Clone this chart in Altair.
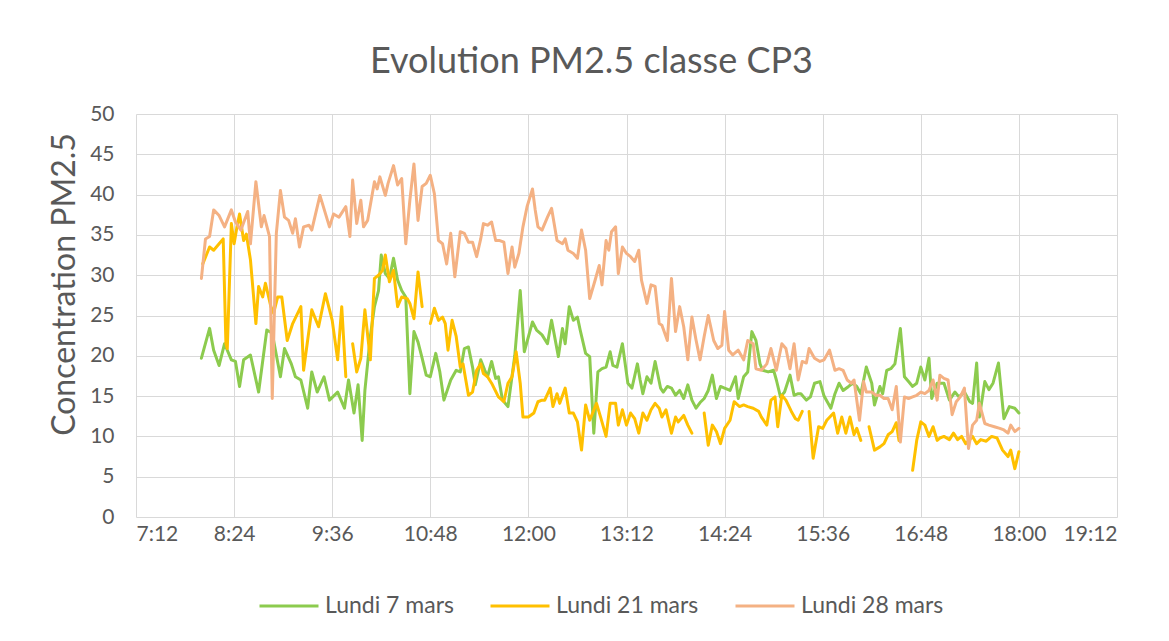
import altair as alt
import pandas as pd

SERIES = ["Lundi 7 mars", "Lundi 21 mars", "Lundi 28 mars"]
COLORS = ["#8CCB4E", "#FFC000", "#F4B183"]

# time in minutes since midnight
TIME_7 = [480, 486, 489, 493, 497, 502, 505, 508, 511, 516,
          522, 528, 532, 538, 541, 546, 549, 553, 558, 561,
          565, 570, 574, 580, 585, 588,
          592, 595, 598, 600, 604, 607, 610, 612, 615, 618,
          621, 624, 627, 630, 633, 636, 639, 642, 645, 648,
          652, 655, 658, 663, 667, 670, 673, 676, 679, 681,
          685, 688, 690, 693, 696, 698,
          701, 705, 710, 714, 717, 723, 726, 730, 734, 737,
          742, 745, 747, 750, 753, 756, 758, 762, 765, 768,
          771, 774, 777, 780, 782, 785, 789, 793, 796, 800,
          802, 804, 807, 810, 813,
          817, 819, 822, 825, 828, 831, 834, 837, 840, 843,
          846, 849, 852, 855, 858, 861, 864, 868, 872, 874,
          878, 881, 884, 887, 890, 892, 896, 900, 902, 905,
          908, 912, 915, 918, 920, 924,
          927, 930, 934, 937, 942, 945, 948, 951, 955, 958,
          961, 964, 968, 972, 974, 978, 980, 983, 986, 989,
          993, 996, 999, 1002, 1005, 1008, 1011, 1014, 1016, 1020,
          1025, 1029, 1033, 1036, 1040, 1044, 1046, 1049, 1051, 1055,
          1058, 1061, 1065, 1069, 1073, 1077, 1080]
PM_7 = [19.7, 23.4, 20.7, 18.8, 21.5, 19.5, 19.3, 16.2, 19.5, 20.1,
        15.5, 23.2, 22.8, 17.4, 20.9, 19.0, 17.4, 17.0, 13.5, 18.0,
        15.5, 17.4, 14.5, 15.5, 13.5, 17.0,
        12.9, 16.4, 9.5, 15.7, 22.4, 26.1, 28.1, 32.5, 30.2, 29.6,
        32.1, 29.4, 28.1, 27.3, 15.3, 23.0, 21.7, 19.7, 17.6, 17.4,
        20.3, 18.0, 14.5, 17.0, 18.2, 18.0, 20.9, 21.1, 18.6, 16.4,
        19.5, 18.2, 17.4, 19.3, 17.2, 17.4,
        14.5, 13.7, 20.0, 28.1, 20.5, 24.2, 23.2, 22.6, 21.5, 24.4,
        19.9, 23.4, 21.5, 26.1, 24.4, 24.8, 23.2, 20.3, 19.9, 10.4,
        18.0, 18.4, 18.6, 20.5, 18.8, 18.6, 21.5, 16.6, 16.0, 19.0,
        17.0, 15.3, 17.4, 16.6, 19.3,
        16.0, 15.5, 16.2, 16.0, 15.1, 15.7, 14.7, 16.4, 14.5, 13.5,
        14.2, 14.7, 15.7, 17.6, 14.7, 16.2, 16.0, 15.7, 17.4, 14.7,
        17.4, 18.0, 23.0, 21.9, 19.0, 18.2, 18.0, 18.2, 17.0, 14.9,
        15.5, 17.6, 15.1, 15.3, 15.3, 14.5,
        14.9, 16.6, 16.8, 15.0, 13.5, 15.3, 16.6, 15.7, 16.2, 16.6,
        16.2, 15.3, 18.6, 16.6, 13.9, 16.2, 15.3, 18.2, 18.4, 19.0,
        23.4, 17.4, 16.8, 16.2, 16.6, 18.6, 17.0, 19.7, 14.7, 16.6,
        16.6, 14.5, 15.5, 14.9, 15.5, 14.3, 14.1, 19.1, 12.4, 16.8,
        15.8, 16.6, 19.1, 12.2, 13.7, 13.5, 12.9]

# None marks a gap in the measurements
TIME_21 = [481, 486, 489, 493, 496, 498, 499, 502, 504, 506,
           508, 511, 513, 516, 520, 522, 525, 527, 531, 533,
           536, 539, 543, 547, 553, 555, 561, 566, 571, 576,
           580, 583, 586, 588,
           591, 594, 597, 600, 604, 607, 610, 613, 615, 618,
           621, 624, 627, 631, 633, 636, 639, 642, 645,
           648, 651, 654, 657, 659, 661, 664, 667, 670, 672,
           676, 679, 682, 685, 687, 690, 693, 698,
           702, 705, 708, 711, 714, 716, 720, 724, 727, 730,
           732, 736, 738, 741, 743, 747, 750, 753, 756, 759,
           762, 765, 770, 773, 777, 780, 784, 786, 789, 792,
           795, 798, 801, 804, 807, 810, 813,
           816, 818, 821, 825, 828, 830, 834, 837, 840, 845,
           849, 852, 855, 858, 861, 864, 868, 871, 875, 878,
           881, 885, 889, 891, 895, 898, 901, 903, 906, 909,
           913, 916, 918, 921, 923,
           926, 929, 933, 936, 939, 944, 947, 950, 953, 956,
           959, 961, 964, 967,
           970, 974, 978, 981, 984, 987, 990, 992, 997,
           1002, 1005, 1008, 1011, 1014, 1017, 1020,
           1022, 1025, 1029, 1032, 1035, 1038, 1041, 1044, 1046, 1049,
           1052, 1056, 1060, 1064, 1068, 1072, 1074, 1077, 1080]
PM_21 = [31.4, 33.5, 33.1, 33.9, 34.5, 21.5, 20.9, 36.4, 33.9, 35.9,
         37.6, 34.3, 35.1, 31.9, 24.0, 28.6, 27.3, 29.0, 26.1, 25.3,
         27.3, 27.3, 21.9, 24.0, 26.1, 18.2, 25.7, 23.6, 27.7, 24.4,
         19.5, 26.1, 17.4, None,
         21.5, 18.0, 19.7, 25.7, 19.5, 29.6, 30.0, 30.6, 32.5, 29.2,
         30.6, 26.1, 27.3, 27.1, 26.5, 24.6, 30.4, 26.1, None,
         24.0, 25.9, 24.4, 24.8, 24.0, 20.7, 24.4, 22.4, 18.6, 19.0,
         15.1, 15.5, 18.2, 19.0, 17.8, 17.4, 16.6, 14.9,
         14.3, 16.6, 17.4, 20.5, 16.6, 12.4, 12.4, 12.9, 14.3, 14.5,
         14.5, 16.0, 13.7, 15.3, 14.1, 16.0, 12.9, 12.9, 11.8, 8.3,
         13.9, 12.0, 14.1, 12.4, 10.0, 14.1, 14.1, 11.4, 13.3, 11.4,
         12.9, 12.2, 10.4, 12.9, 12.0, 13.3, 14.1,
         13.5, 12.4, 13.3, 10.4, 12.4, 11.8, 12.6, 11.4, 10.4, None,
         12.9, 8.9, 11.4, 10.6, 9.1, 11.0, 12.0, 14.3, 13.7, 13.9,
         13.7, 13.5, 13.1, 12.4, 11.4, 14.5, 14.9, 11.2, 15.1, 14.5,
         13.1, 12.2, 12.0, 13.1, None,
         13.1, 7.3, 11.2, 11.0, 12.0, 12.9, 10.4, 12.4, 10.4, 12.4,
         10.2, 11.0, 9.5, None,
         11.2, 8.3, 8.7, 9.1, 10.2, 10.6, 11.7, 9.5, None,
         5.8, 9.5, 11.8, 11.4, 10.0, 11.2, 9.5,
         9.8, 10.0, 9.6, 10.4, 9.6, 10.0, 9.1, 9.6, 10.0, 9.1,
         9.6, 9.4, 10.0, 9.8, 8.3, 7.5, 8.3, 6.0, 8.1]

TIME_28 = [480, 483, 486, 489, 493, 497, 502, 505, 509, 514,
           516, 520, 524, 526, 530, 532, 535, 538, 541, 544,
           547, 549, 552, 555, 559, 561, 567, 574, 577, 581,
           586, 589,
           591, 594, 597, 599, 602, 607, 609, 611, 615, 617,
           621, 624, 627, 630, 633, 636, 639, 642, 645, 648,
           651, 654, 657, 660, 663, 666, 670, 673, 676, 679,
           682, 685, 687, 690, 693, 696, 699,
           702, 705, 708, 710, 713, 716, 719, 723, 725, 727,
           730, 734, 737, 741, 745, 747, 749, 753, 756, 759,
           762, 765, 769, 772, 774, 777, 779, 781, 784, 786,
           789, 792, 795, 798, 801, 803, 807, 810, 813, 816,
           818, 822, 825, 828, 831, 834, 837, 840, 843, 846,
           849, 852, 856, 859, 862, 864, 867, 870, 874, 878,
           881, 885, 887, 891, 895, 898, 902, 906, 909, 912,
           915, 918, 921, 924, 926,
           930, 934, 937, 941, 945, 948, 951, 954, 957, 959,
           963, 966, 968, 972, 975, 978, 981, 984, 987, 990,
           993, 996, 999, 1002, 1005, 1008, 1011, 1014, 1017, 1020,
           1022, 1025, 1028, 1031, 1034, 1037, 1040, 1043, 1046, 1049,
           1051, 1055, 1058, 1062, 1066, 1069, 1072, 1074, 1077, 1080]
PM_28 = [29.6, 34.5, 34.8, 38.1, 37.4, 36.0, 38.1, 36.6, 35.6, 37.9,
         33.9, 41.6, 36.0, 37.4, 34.8, 14.7, 35.2, 40.5, 37.2, 36.8,
         35.2, 37.0, 33.5, 36.0, 36.2, 35.6, 39.9, 36.0, 37.6, 37.2,
         38.5, 34.8,
         41.8, 36.4, 39.3, 36.0, 36.8, 41.6, 40.7, 42.2, 39.9, 41.4,
         43.6, 41.2, 42.0, 33.9, 39.3, 43.8, 36.8, 41.0, 41.4, 42.4,
         40.1, 34.3, 33.9, 31.4, 35.2, 29.8, 35.4, 35.2, 34.1, 34.1,
         32.3, 34.5, 36.4, 36.2, 36.6, 34.3, 34.3,
         34.1, 30.2, 33.5, 31.0, 32.7, 36.0, 38.5, 40.7, 38.1, 36.0,
         35.6, 37.2, 38.3, 34.3, 33.9, 34.5, 33.1, 32.7, 32.1, 35.6,
         33.1, 27.1, 29.4, 31.2, 28.8, 34.3, 33.1, 35.4, 36.0, 30.2,
         33.5, 32.7, 32.3, 31.7, 33.1, 29.4, 26.5, 28.8, 28.6, 24.0,
         23.8, 21.9, 29.6, 23.0, 26.1, 23.6, 19.5, 24.8, 22.0, 19.5,
         22.4, 25.0, 21.9, 20.9, 21.3, 25.5, 20.7, 20.1, 20.7, 19.5,
         21.9, 21.5, 18.4, 18.2, 19.0, 20.9, 18.2, 21.5, 20.9, 18.4,
         21.5, 17.0, 19.3, 19.1, 20.9,
         19.7, 19.3, 19.5, 20.7, 18.2, 18.4, 18.2, 17.0, 16.6, 17.0,
         12.0, 16.8, 15.5, 15.5, 15.1, 15.1, 14.7, 14.7, 13.3, 16.2,
         9.3, 14.9, 14.7, 14.9, 15.1, 15.5, 15.3, 15.7, 17.0, 14.5,
         17.6, 17.2, 17.0, 12.7, 14.3, 14.9, 16.0, 8.5, 11.4, 12.0,
         14.1, 11.6, 11.4, 11.2, 11.0, 10.8, 10.4, 11.4, 10.6, 11.0]

X_TICKS = [432, 504, 576, 648, 720, 792, 864, 936, 1008, 1080, 1152]
Y_TICKS = [0, 5, 10, 15, 20, 25, 30, 35, 40, 45, 50]

TEXT = "#595959"
GRID = "#D9D9D9"
FONT = "Lato"

rows = []
for name, ts, vs in [(SERIES[0], TIME_7, PM_7),
                     (SERIES[1], TIME_21, PM_21),
                     (SERIES[2], TIME_28, PM_28)]:
    seg = 0
    for t, v in zip(ts, vs):
        if v is None:
            seg += 1
            continue
        rows.append({"serie": name, "seg": f"{name}-{seg}", "t": t, "pm": v})
df = pd.DataFrame(rows)

label_expr = ("floor(datum.value / 60) + ':' + "
              "(datum.value % 60 < 10 ? '0' : '') + (datum.value % 60)")

chart = alt.Chart(df).mark_line(
    strokeWidth=3, strokeJoin="round", strokeCap="round"
).encode(
    x=alt.X("t:Q", title="",
            scale=alt.Scale(domain=[432, 1152], nice=False, zero=False),
            axis=alt.Axis(values=X_TICKS, labelExpr=label_expr,
                          labelPadding=6, ticks=False, tickSize=0, domain=False,
                          grid=True, gridColor=GRID, gridWidth=1,
                          labelFont=FONT, labelFontSize=21, labelColor=TEXT)),
    y=alt.Y("pm:Q", title="Concentration PM2.5",
            scale=alt.Scale(domain=[0, 50], nice=False),
            axis=alt.Axis(values=Y_TICKS, labelPadding=22, ticks=False, tickSize=0,
                          domain=False, grid=True, gridColor=GRID, gridWidth=1,
                          labelFont=FONT, labelFontSize=21, labelColor=TEXT,
                          titleFont=FONT, titleFontSize=32, titleFontWeight="normal",
                          titleColor=TEXT, titleAngle=270, titleAlign="center",
                          titleBaseline="middle", titleX=-72, titleY=170)),
    color=alt.Color("serie:N", title=None,
                    scale=alt.Scale(domain=SERIES, range=COLORS),
                    legend=alt.Legend(orient="none", legendX=122, legendY=461,
                                      direction="horizontal", symbolType="stroke",
                                      symbolSize=3481, symbolStrokeWidth=3,
                                      labelFont=FONT, labelFontSize=23,
                                      labelColor=TEXT, labelOffset=5,
                                      columnPadding=30, padding=0)),
    detail="seg:N",
).properties(
    width=981,
    height=403,
    title=alt.TitleParams("Evolution PM2.5 classe CP3", font=FONT, fontSize=36,
                          fontWeight="normal", color=TEXT, anchor="middle",
                          frame="group", offset=43, baseline="alphabetic",
                          dx=-35, dy=49),
    autosize=alt.AutoSizeParams(type="none"),
    padding={"left": 128, "top": 106, "right": 44, "bottom": 116},
).configure_view(stroke=None)

chart.save("out.html", embed_options={"renderer": "svg", "actions": False})
